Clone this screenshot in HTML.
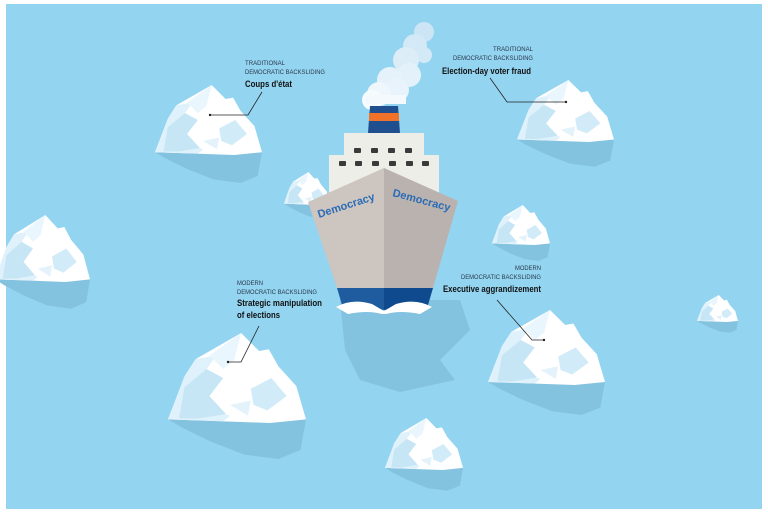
<!DOCTYPE html>
<html><head><meta charset="utf-8"><style>
html,body{margin:0;padding:0;background:#fff;}
svg{display:block;}
.s{font-family:"Liberation Sans",sans-serif;font-size:6.5px;fill:#2a3a4a;}
.b{font-family:"Liberation Sans",sans-serif;font-size:9px;font-weight:bold;fill:#111;}
</style></head><body>
<svg width="768" height="516" viewBox="0 0 768 516" xmlns="http://www.w3.org/2000/svg">
<defs>
<g id="ib">
<polygon points="0,96 100,96 96,130 80,140 55,135 30,120 10,105" fill="#84c3df"/>
<polygon points="0,96 12,48 20,29 53,0 66,20 73,18 80,37 93,59 100,96 74,100 38,98" fill="#ffffff"/>
<polygon points="0,96 12,48 20,29 35,25 28,40 12,60 20,75 30,85 45,92 40,98" fill="#dff1fb"/>
<polygon points="12,60 28,40 40,50 30,70 42,90 22,95 8,95" fill="#c6e6f6"/>
<polygon points="30,25 53,0 48,30 40,40" fill="#eaf6fd"/>
<polygon points="60,62 75,50 86,70 72,86 62,80" fill="#d2ebf8"/>
<polygon points="45,80 60,75 58,92" fill="#e4f3fb"/>
</g>
</defs>
<rect x="6" y="4" width="756" height="505" fill="#93d4f1"/>
<polygon points="340,300 460,300 470,330 440,360 455,380 400,392 360,380 345,350" fill="#84c3df"/>
<use href="#ib" transform="translate(155,85) scale(1.07,0.70)"/>
<use href="#ib" transform="translate(517,80) scale(0.97,0.62)"/>
<use href="#ib" transform="translate(284,172) scale(0.46,0.33)"/>
<use href="#ib" transform="translate(-5,215) scale(0.95,0.67)"/>
<use href="#ib" transform="translate(492,205) scale(0.58,0.40)"/>
<use href="#ib" transform="translate(168,333) scale(1.38,0.90)"/>
<use href="#ib" transform="translate(488,310) scale(1.17,0.75)"/>
<use href="#ib" transform="translate(697,295) scale(0.41,0.27)"/>
<use href="#ib" transform="translate(385,418) scale(0.78,0.52)"/>
<!-- smoke -->
<circle cx="424" cy="32" r="10" fill="#cbe5f5"/>
<circle cx="415" cy="46" r="12" fill="#d3e9f6"/>
<circle cx="424" cy="55" r="8" fill="#d3e9f6"/>
<circle cx="406" cy="60" r="13" fill="#dcedf8"/>
<circle cx="409" cy="75" r="12" fill="#e3f1fa"/>
<circle cx="390" cy="80" r="13" fill="#e6f2fa"/>
<circle cx="397" cy="90" r="12" fill="#e8f3fb"/>
<circle cx="379" cy="94" r="12" fill="#f0f7fc"/>
<circle cx="372" cy="100" r="10" fill="#f6fbfe"/>
<rect x="366" y="95" width="40" height="9" fill="#f3f9fd"/>
<!-- funnel -->
<polygon points="370,106 398,106 400,133 368,133" fill="#1f4f8f"/>
<rect x="369" y="113" width="30" height="8" fill="#f07128"/>
<rect x="344" y="133" width="80" height="22" fill="#eeeee9"/>
<rect x="329" y="155" width="110" height="40" fill="#eeeee9"/>
<g fill="#3a3a3a">
<rect x="354" y="148" width="7" height="5" rx="1"/><rect x="371" y="148" width="7" height="5" rx="1"/><rect x="388" y="148" width="7" height="5" rx="1"/><rect x="405" y="148" width="7" height="5" rx="1"/>
<rect x="339" y="161" width="7" height="5" rx="1"/><rect x="355" y="161" width="7" height="5" rx="1"/><rect x="372" y="161" width="7" height="5" rx="1"/><rect x="389" y="161" width="7" height="5" rx="1"/><rect x="406" y="161" width="7" height="5" rx="1"/><rect x="422" y="161" width="7" height="5" rx="1"/>
</g>
<polygon points="308,202 384,168 384,288 337,288" fill="#cdc5c0"/>
<polygon points="384,168 458,201 433,288 384,288" fill="#bab2ae"/>
<polygon points="337,288 384,288 384,310 342,305" fill="#1f5c9f"/>
<polygon points="384,288 433,288 428,305 384,310" fill="#0f4a8f"/>
<path d="M336,307 Q352,298 372,304 L384,311 L396,304 Q416,298 432,307 L420,314 Q400,310 386,314 L382,314 Q368,310 348,314 Z" fill="#ffffff"/>
<text x="0" y="0" transform="translate(319,218) rotate(-18)" font-family="Liberation Sans,sans-serif" font-weight="bold" font-size="11" fill="#2a6cb5">Democracy</text>
<text x="0" y="0" transform="translate(392,196) rotate(15)" font-family="Liberation Sans,sans-serif" font-weight="bold" font-size="11" fill="#2a6cb5">Democracy</text>
<g stroke="#222" stroke-width="0.8" fill="none">
<polyline points="262,92 248,115 210,115"/>
<polyline points="490,78 507,102 566,102"/>
<polyline points="259,326 241,362 228,362"/>
<polyline points="497,300 532,340 544,340"/>
</g>
<g fill="#222"><circle cx="210" cy="115" r="1.2"/><circle cx="566" cy="102" r="1.2"/><circle cx="228" cy="362" r="1.2"/><circle cx="544" cy="340" r="1.2"/></g>
<text class="s" x="245" y="65" textLength="40" lengthAdjust="spacingAndGlyphs">TRADITIONAL</text>
<text class="s" x="245" y="74" textLength="80" lengthAdjust="spacingAndGlyphs">DEMOCRATIC BACKSLIDING</text>
<text class="b" x="245" y="87" textLength="47" lengthAdjust="spacingAndGlyphs">Coups d'état</text>
<text class="s" x="493" y="51" textLength="40" lengthAdjust="spacingAndGlyphs">TRADITIONAL</text>
<text class="s" x="453" y="60" textLength="80" lengthAdjust="spacingAndGlyphs">DEMOCRATIC BACKSLIDING</text>
<text class="b" x="442" y="74" textLength="89" lengthAdjust="spacingAndGlyphs">Election-day voter fraud</text>
<text class="s" x="237" y="285" textLength="26" lengthAdjust="spacingAndGlyphs">MODERN</text>
<text class="s" x="237" y="294" textLength="80" lengthAdjust="spacingAndGlyphs">DEMOCRATIC BACKSLIDING</text>
<text class="b" x="237" y="306" textLength="85" lengthAdjust="spacingAndGlyphs">Strategic manipulation</text>
<text class="b" x="237" y="318" textLength="43" lengthAdjust="spacingAndGlyphs">of elections</text>
<text class="s" x="515" y="270" textLength="26" lengthAdjust="spacingAndGlyphs">MODERN</text>
<text class="s" x="461" y="279" textLength="80" lengthAdjust="spacingAndGlyphs">DEMOCRATIC BACKSLIDING</text>
<text class="b" x="443" y="292" textLength="98" lengthAdjust="spacingAndGlyphs">Executive aggrandizement</text>
</svg>
</body></html>
